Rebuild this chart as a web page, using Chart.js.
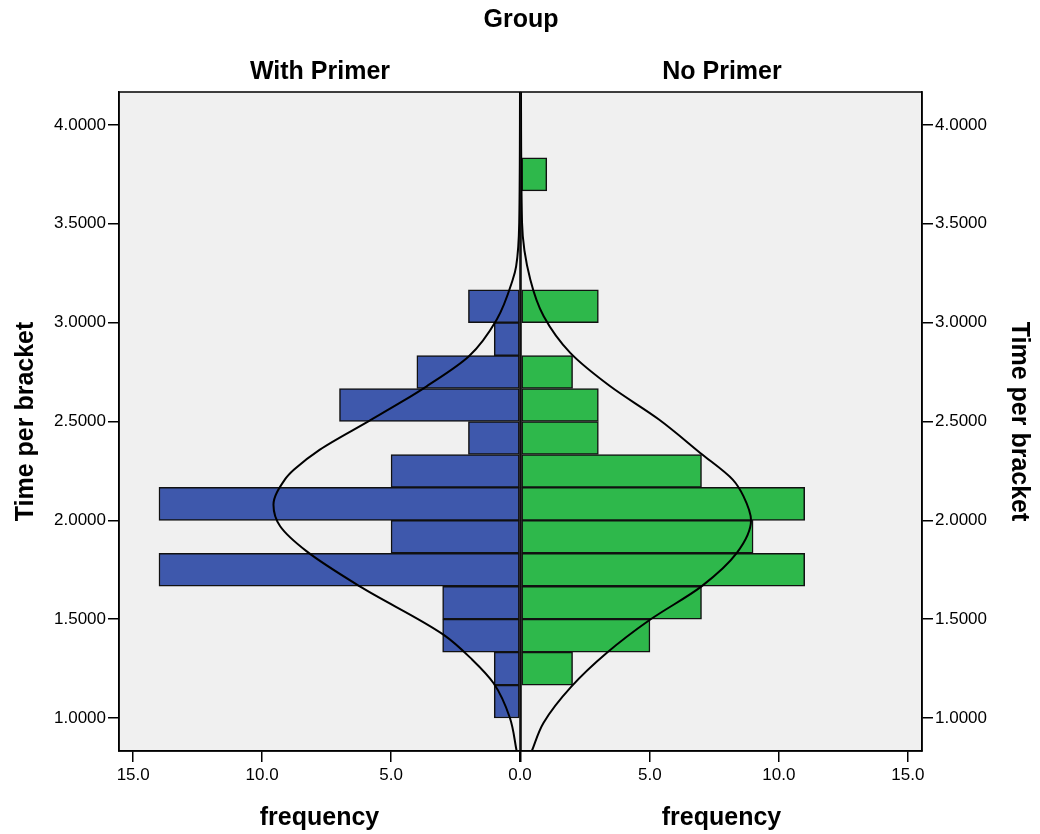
<!DOCTYPE html>
<html lang="en">
<head>
<meta charset="UTF-8">
<title>Time per bracket by Group</title>
<script src="https://cdn.jsdelivr.net/npm/chart.js"></script>
<style>
  body { margin: 0; background: #fff; font-family: "Liberation Sans", Arial, sans-serif; }
  #wrap { position: relative; width: 1040px; height: 834px; }
  #wrap canvas { position: absolute; left: 0; top: 0; }
  .lbl { position: absolute; font-weight: bold; font-size: 25px; line-height: 36px; height: 36px; text-align: center; color: #000; }
</style>
</head>
<body>
<div id="wrap">
  <canvas id="izq" width="1040" height="834"></canvas>
  <canvas id="der" width="1040" height="834"></canvas>
  <div class="lbl" style="left:421px;top:0;width:200px">Group</div>
  <div class="lbl" style="left:220px;top:52px;width:200px">With Primer</div>
  <div class="lbl" style="left:622px;top:52px;width:200px">No Primer</div>
</div>

<script>
  // bin centers (Time per bracket) and frequencies per group
  const binCenters = [1.0833, 1.25, 1.4167, 1.5833, 1.75, 1.9167, 2.0833, 2.25, 2.4167,
                      2.5833, 2.75, 2.9167, 3.0833, 3.25, 3.4167, 3.5833, 3.75, 3.9167];
  const withPrimer = [1, 1, 3, 3, 14, 5, 14, 5, 2, 7, 4, 1, 2, 0, 0, 0, 0, 0];
  const noPrimer   = [0, 2, 5, 7, 11, 9, 11, 7, 3, 3, 2, 0, 3, 0, 0, 0, 1, 0];

  // normal curves (time, frequency)
  const withCurveY = [0.8333, 1.0, 1.177, 1.295, 1.422, 1.666, 1.843, 1.970, 2.079, 2.206,
                      2.257, 2.358, 2.501, 2.6, 2.678, 2.830, 3.016, 3.218, 3.285, 3.507, 4.1667];
  const withCurveX = [0.13, 0.39, 1.03, 1.85, 2.97, 6.21, 8.27, 9.30, 9.56, 9.12,
                      8.76, 7.76, 5.88, 4.58, 3.62, 1.98, 0.90, 0.28, 0.15, 0.03, 0.0];
  const noCurveY = [0.8333, 0.975, 1.160, 1.329, 1.497, 1.666, 1.835, 2.0, 2.121, 2.206,
                    2.341, 2.510, 2.678, 2.847, 3.032, 3.218, 3.507, 4.1667];
  const noCurveX = [0.42, 0.87, 1.96, 3.32, 5.0, 7.0, 8.37, 8.92, 8.63, 8.21,
                    6.95, 5.35, 3.46, 1.91, 0.88, 0.36, 0.04, 0.0];

  const yTickValues = [1.0, 1.5, 2.0, 2.5, 3.0, 3.5, 4.0];
  const xTickValues = [0, 5, 10, 15];

  const fuente = "'Liberation Sans', Arial, sans-serif";

  // fondo gris y marco del area de datos
  const marco = {
    id: 'marco',
    beforeDraw(chart) {
      const { ctx, chartArea: a } = chart;
      ctx.save();
      ctx.fillStyle = '#f0f0f0';
      ctx.fillRect(a.left, a.top, a.right - a.left, a.bottom - a.top);
      ctx.restore();
    },
    afterDatasetsDraw(chart) {
      const { ctx, chartArea: a } = chart;
      ctx.save();
      ctx.strokeStyle = '#000';
      ctx.lineWidth = 1.5;
      ctx.strokeRect(a.left, a.top, a.right - a.left, a.bottom - a.top);
      ctx.restore();
    }
  };

  function hacerGrafico(id, izquierda, conteos, curvaY, curvaX, color) {
    const barras = binCenters.map((y, i) => ({ x: conteos[i], y: y })).filter(p => p.x > 0);
    const curva = curvaY.map((y, i) => ({ x: curvaX[i], y: y }));

    return new Chart(document.getElementById(id), {
      type: 'bar',
      data: {
        datasets: [
          {
            type: 'line',
            indexAxis: 'y',
            data: curva,
            borderColor: '#000',
            borderWidth: 2,
            pointRadius: 0,
            cubicInterpolationMode: 'monotone',
            fill: false,
            order: 0
          },
          {
            type: 'bar',
            data: barras,
            backgroundColor: color,
            borderColor: '#111',
            borderWidth: 1.5,
            borderSkipped: false,
            barPercentage: 1,
            categoryPercentage: 1,
            order: 1
          }
        ]
      },
      options: {
        indexAxis: 'y',
        responsive: false,
        animation: false,
        layout: { padding: { left: izquierda ? 0 : 521, right: izquierda ? 520 : 0, top: 92, bottom: 0 } },
        plugins: { legend: { display: false }, tooltip: { enabled: false } },
        scales: {
          x: {
            type: 'linear',
            min: 0,
            max: 15.55,
            reverse: izquierda,
            afterBuildTicks: s => { s.ticks = xTickValues.map(v => ({ value: v })); },
            afterFit: s => { s.height = 83; },
            grid: { drawOnChartArea: false, drawTicks: true, tickLength: 11, color: '#000', lineWidth: 1.5 },
            border: { display: true, color: '#000', width: 1.5 },
            ticks: {
              padding: 3,
              color: '#000',
              maxRotation: 0,
              autoSkip: false,
              font: { family: fuente, size: 17 },
              callback: v => (!izquierda && v === 0) ? '' : v.toFixed(1)
            },
            title: {
              display: true,
              text: 'frequency',
              color: '#000',
              font: { family: fuente, size: 25, weight: 'bold' },
              padding: { top: 0, bottom: 1 }
            }
          },
          y: {
            type: 'linear',
            position: izquierda ? 'left' : 'right',
            min: 0.8333,
            max: 4.1667,
            offset: false,
            afterBuildTicks: s => { s.ticks = yTickValues.map(v => ({ value: v })); },
            afterFit: s => { s.width = izquierda ? 119 : 118; },
            grid: { offset: false, drawOnChartArea: false, drawTicks: true, tickLength: 11, color: '#000', lineWidth: 1.5 },
            border: { display: true, color: '#000', width: 1.5 },
            ticks: {
              padding: 2,
              color: '#000',
              autoSkip: false,
              font: { family: fuente, size: 17 },
              callback: v => Number(v).toFixed(4)
            },
            title: {
              display: true,
              text: 'Time per bracket',
              color: '#000',
              font: { family: fuente, size: 25, weight: 'bold' },
              padding: { top: izquierda ? 11 : 6, bottom: 0 }
            }
          }
        }
      },
      plugins: [marco]
    });
  }

  hacerGrafico('izq', true, withPrimer, withCurveY, withCurveX, '#3e58ac');
  hacerGrafico('der', false, noPrimer, noCurveY, noCurveX, '#2eb84b');
</script>
</body>
</html>
